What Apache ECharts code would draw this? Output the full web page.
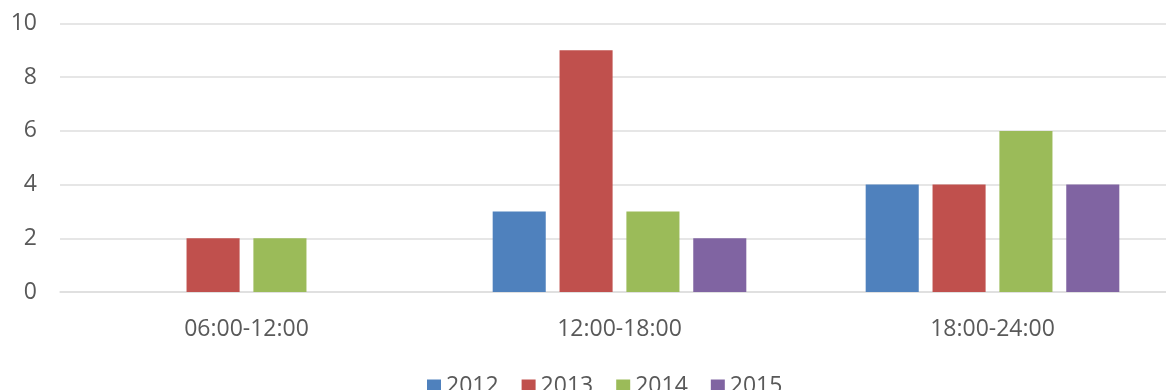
<!DOCTYPE html>
<html>
<head>
<meta charset="utf-8">
<script src="https://cdn.jsdelivr.net/npm/echarts@6/dist/echarts.min.js"></script>
<style>
  html, body { margin: 0; padding: 0; background: #ffffff; overflow: hidden; }
  #chart { width: 1180px; height: 390px; }
</style>
</head>
<body>
<div id="chart"></div>
<script>
// Time slots along the x axis
const categories = ['06:00-12:00', '12:00-18:00', '18:00-24:00'];
// Counts per year and time slot
const years = ['2012', '2013', '2014', '2015'];
const values2012 = [0, 3, 4];
const values2013 = [2, 9, 4];
const values2014 = [2, 3, 6];
const values2015 = [0, 2, 4];
const seriesValues = [values2012, values2013, values2014, values2015];
const colors = ['#4F81BD', '#C0504D', '#9BBB59', '#8064A2'];

const textColor = '#595959';
const fontFamily = '"Open Sans", "Liberation Sans", sans-serif';

const chart = echarts.init(document.getElementById('chart'), null, { renderer: 'canvas' });

chart.setOption({
  animation: false,
  backgroundColor: '#ffffff',
  grid: { left: 60, top: 23.5, width: 1119, height: 268.5, containLabel: false },
  legend: {
    data: years,
    left: 422,
    top: 370,
    itemWidth: 14,
    itemHeight: 14,
    itemGap: 23,
    icon: 'rect',
    textStyle: { color: textColor, fontSize: 23, fontFamily: fontFamily }
  },
  xAxis: {
    type: 'category',
    data: categories,
    axisLine: { show: true, lineStyle: { color: '#dedede', width: 1.5 } },
    axisTick: { show: false },
    axisLabel: { color: textColor, fontSize: 23, fontFamily: fontFamily, margin: 26 },
    splitLine: { show: false }
  },
  yAxis: {
    type: 'value',
    min: 0,
    max: 10,
    interval: 2,
    axisLine: { show: false },
    axisTick: { show: false },
    axisLabel: { color: textColor, fontSize: 23, fontFamily: fontFamily, margin: 23 },
    splitLine: { lineStyle: { color: '#dedede', width: 1.5 } }
  },
  series: years.map((y, i) => ({
    name: y,
    type: 'bar',
    data: seriesValues[i],
    barGap: '26%',
    barCategoryGap: '32%',
    itemStyle: { color: colors[i] }
  }))
});
</script>
</body>
</html>
